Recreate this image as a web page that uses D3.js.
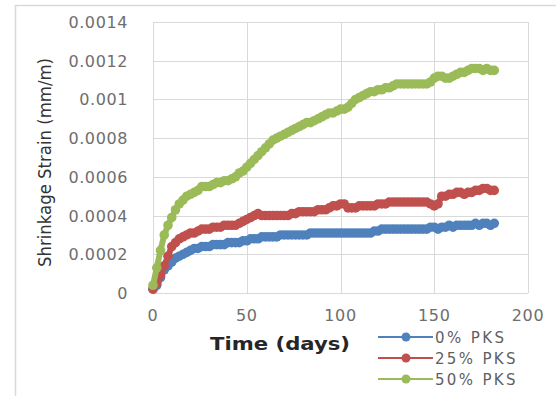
<!DOCTYPE html>
<html>
<head>
<meta charset="utf-8">
<script src="https://cdn.jsdelivr.net/npm/d3@7"></script>
<style>
  body { margin: 0; background: #fff; }
  text { font-family: "DejaVu Sans", sans-serif; }
</style>
</head>
<body>
<div class="chart-container"></div>
<script>
// measurement days (every 2 days)
const days = d3.range(0, 183, 2);

const seriesNames = ['0% PKS', '25% PKS', '50% PKS'];
const seriesColors = ['#4f81bd', '#c0504d', '#9bbb59'];

const pks0 = [
  0.00002, 0.00004, 0.00008, 0.00012, 0.00014, 0.00016, 0.00018, 0.00019, 0.00020, 0.00021,
  0.00022, 0.00023, 0.00023, 0.00024, 0.00024, 0.00024, 0.00025, 0.00025, 0.00025, 0.00025,
  0.00026, 0.00026, 0.00026, 0.00026, 0.00027, 0.00027, 0.00028, 0.00028, 0.00028, 0.00029,
  0.00029, 0.00029, 0.00029, 0.00029, 0.00030, 0.00030, 0.00030, 0.00030, 0.00030, 0.00030,
  0.00030, 0.00030, 0.00031, 0.00031, 0.00031, 0.00031, 0.00031, 0.00031, 0.00031, 0.00031,
  0.00031, 0.00031, 0.00031, 0.00031, 0.00031, 0.00031, 0.00031, 0.00031, 0.00031, 0.00032,
  0.00032, 0.00033, 0.00033, 0.00033, 0.00033, 0.00033, 0.00033, 0.00033, 0.00033, 0.00033,
  0.00033, 0.00033, 0.00033, 0.00033, 0.00034, 0.00034, 0.00033, 0.00034, 0.00034, 0.00035,
  0.00034, 0.00035, 0.00035, 0.00035, 0.00035, 0.00035, 0.00036, 0.00035, 0.00036, 0.00036,
  0.00035, 0.00036
];

const pks25 = [
  0.00002, 0.00005, 0.00009, 0.00014, 0.00019, 0.00024, 0.00026, 0.00028, 0.00029, 0.00030,
  0.00031, 0.00031, 0.00032, 0.00033, 0.00033, 0.00033, 0.00034, 0.00034, 0.00034, 0.00035,
  0.00035, 0.00035, 0.00035, 0.00036, 0.00037, 0.00038, 0.00039, 0.00040, 0.00041, 0.00040,
  0.00040, 0.00040, 0.00040, 0.00040, 0.00040, 0.00040, 0.00040, 0.00041, 0.00041, 0.00042,
  0.00042, 0.00042, 0.00042, 0.00042, 0.00043, 0.00043, 0.00043, 0.00044, 0.00045, 0.00045,
  0.00046, 0.00046, 0.00044, 0.00044, 0.00044, 0.00045, 0.00045, 0.00045, 0.00045, 0.00045,
  0.00046, 0.00046, 0.00046, 0.00047, 0.00047, 0.00047, 0.00047, 0.00047, 0.00047, 0.00047,
  0.00047, 0.00047, 0.00047, 0.00047, 0.00046, 0.00045, 0.00046, 0.00050, 0.00050, 0.00051,
  0.00051, 0.00052, 0.00052, 0.00051, 0.00052, 0.00052, 0.00053, 0.00053, 0.00054, 0.00054,
  0.00053, 0.00053
];

const pks50 = [
  0.00004, 0.00013, 0.00022, 0.00030, 0.00035, 0.00039, 0.00043, 0.00046, 0.00048, 0.00050,
  0.00051, 0.00052, 0.00053, 0.00055, 0.00055, 0.00055, 0.00056, 0.00057, 0.00057, 0.00058,
  0.00058, 0.00059, 0.00060, 0.00062, 0.00063, 0.00065, 0.00067, 0.00069, 0.00071, 0.00073,
  0.00075, 0.00077, 0.00079, 0.00080, 0.00081, 0.00082, 0.00083, 0.00084, 0.00085, 0.00086,
  0.00087, 0.00088, 0.00088, 0.00089, 0.00090, 0.00091, 0.00092, 0.00093, 0.00093, 0.00094,
  0.00095, 0.00095, 0.00096, 0.00098, 0.00100, 0.00101, 0.00102, 0.00103, 0.00104, 0.00104,
  0.00105, 0.00105, 0.00106, 0.00106, 0.00107, 0.00108, 0.00108, 0.00108, 0.00108, 0.00108,
  0.00108, 0.00108, 0.00108, 0.00108, 0.00109, 0.00111, 0.00112, 0.00112, 0.00111, 0.00111,
  0.00112, 0.00113, 0.00114, 0.00114, 0.00115, 0.00116, 0.00116, 0.00116, 0.00115, 0.00116,
  0.00115, 0.00115
];

const xTicks = [0, 50, 100, 150, 200];
const yTicks = [0, 0.0002, 0.0004, 0.0006, 0.0008, 0.001, 0.0012, 0.0014];
const yTickLabels = ['0', '0.0002', '0.0004', '0.0006', '0.0008', '0.001', '0.0012', '0.0014'];

const width = 556;
const height = 396;
const plot = { left: 153, right: 528, top: 22, bottom: 293 };

const x = d3.scaleLinear().domain([0, 200]).range([plot.left, plot.right]);
const y = d3.scaleLinear().domain([0, 0.0014]).range([plot.bottom, plot.top]);

const svg = d3
  .select('.chart-container')
  .append('svg')
  .attr('width', width)
  .attr('height', height);

svg.append('rect').attr('width', width).attr('height', height).attr('fill', '#fff');

// outer chart frame (only top and left show in the picture)
svg.append('path')
  .attr('d', `M15.5,${height} V5.5 H${width}`)
  .attr('fill', 'none')
  .attr('stroke', '#d9d9d9')
  .attr('stroke-width', 1.5);

// gridlines
svg.append('g')
  .selectAll('line.h')
  .data(yTicks)
  .enter()
  .append('line')
  .attr('x1', plot.left)
  .attr('x2', plot.right)
  .attr('y1', (d) => Math.round(y(d)) + 0.5)
  .attr('y2', (d) => Math.round(y(d)) + 0.5)
  .attr('stroke', '#d9d9d9');

svg.append('g')
  .selectAll('line.v')
  .data(xTicks)
  .enter()
  .append('line')
  .attr('x1', (d) => Math.round(x(d)) + 0.5)
  .attr('x2', (d) => Math.round(x(d)) + 0.5)
  .attr('y1', plot.top)
  .attr('y2', plot.bottom)
  .attr('stroke', '#d9d9d9');

// tick labels
svg.append('g')
  .selectAll('text')
  .data(yTicks)
  .enter()
  .append('text')
  .attr('x', 128)
  .attr('y', (d) => y(d) + 6)
  .attr('text-anchor', 'end')
  .attr('font-size', 16)
  .attr('letter-spacing', 0.6)
  .attr('fill', '#6e6e6e')
  .text((d, i) => yTickLabels[i]);

svg.append('g')
  .selectAll('text')
  .data(xTicks)
  .enter()
  .append('text')
  .attr('x', (d) => x(d))
  .attr('y', 321)
  .attr('text-anchor', 'middle')
  .attr('font-size', 16)
  .attr('letter-spacing', 0.6)
  .attr('fill', '#6e6e6e')
  .text((d) => d);

// axis titles
svg.append('text')
  .attr('x', 210)
  .attr('y', 350)
  .attr('font-size', 18)
  .attr('font-weight', 'bold')
  .attr('fill', '#262626')
  .attr('textLength', 140)
  .attr('lengthAdjust', 'spacingAndGlyphs')
  .text('Time (days)');

svg.append('text')
  .attr('transform', 'translate(51,267) rotate(-90)')
  .attr('font-size', 17)
  .attr('fill', '#333')
  .attr('textLength', 209)
  .attr('lengthAdjust', 'spacingAndGlyphs')
  .text('Shrinkage Strain (mm/m)');

// series
const allSeries = [pks0, pks25, pks50];
const line = d3.line().x((d, i) => x(days[i])).y((d) => y(d));

allSeries.forEach((values, k) => {
  const g = svg.append('g');
  g.append('path')
    .datum(values)
    .attr('d', line)
    .attr('fill', 'none')
    .attr('stroke', seriesColors[k])
    .attr('stroke-width', 6)
    .attr('stroke-linejoin', 'round');
  g.selectAll('circle')
    .data(values)
    .enter()
    .append('circle')
    .attr('cx', (d, i) => x(days[i]))
    .attr('cy', (d) => y(d))
    .attr('r', 4.8)
    .attr('fill', seriesColors[k]);
});

// legend
const legend = svg.append('g');
seriesNames.forEach((name, k) => {
  const ly = 337 + k * 21;
  legend.append('line')
    .attr('x1', 378).attr('x2', 433)
    .attr('y1', ly).attr('y2', ly)
    .attr('stroke', seriesColors[k])
    .attr('stroke-width', 2.2);
  legend.append('circle')
    .attr('cx', 406).attr('cy', ly)
    .attr('r', 4.5)
    .attr('fill', seriesColors[k]);
  legend.append('text')
    .attr('x', 435)
    .attr('y', ly + 6)
    .attr('font-size', 15)
    .attr('fill', '#5f5f5f')
    .attr('textLength', name.length * 11.5)
    .attr('lengthAdjust', 'spacing')
    .text(name);
});
</script>
</body>
</html>
